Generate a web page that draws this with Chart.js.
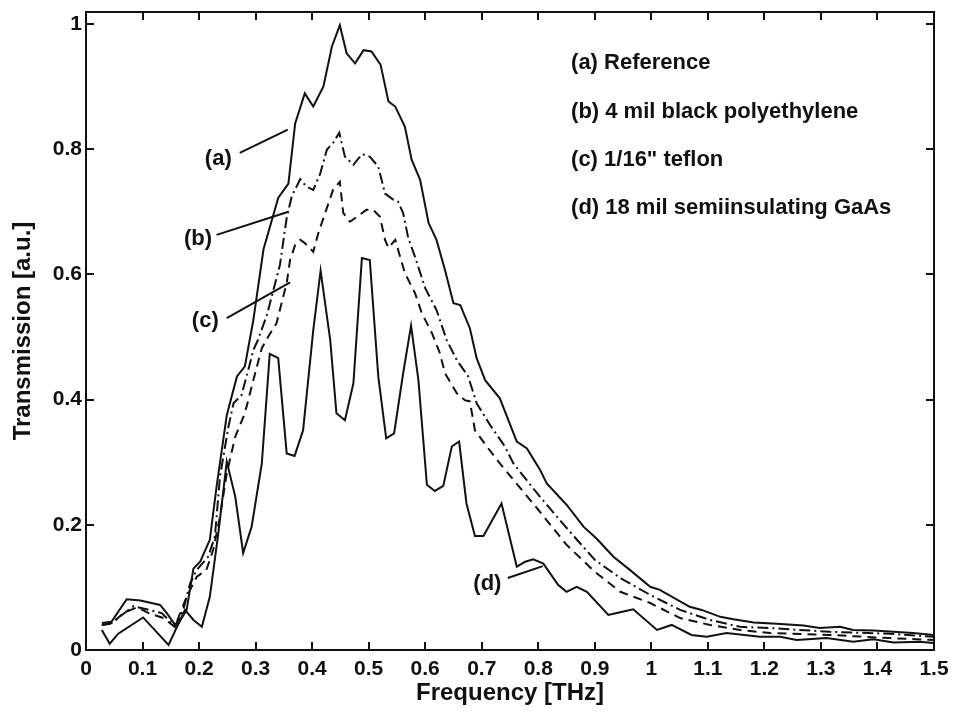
<!DOCTYPE html>
<html>
<head>
<meta charset="utf-8">
<script src="https://cdn.jsdelivr.net/npm/chart.js@4/dist/chart.umd.min.js"></script>
<style>
  html, body { margin: 0; padding: 0; background: #fff; }
  #wrap { width: 953px; height: 713px; }
</style>
</head>
<body>
<div id="wrap"><canvas id="c" width="953" height="713"></canvas></div>
<script>
// ---- Data ----
const xTicks = [0, 0.1, 0.2, 0.3, 0.4, 0.5, 0.6, 0.7, 0.8, 0.9, 1, 1.1, 1.2, 1.3, 1.4, 1.5];
const yTicks = [0, 0.2, 0.4, 0.6, 0.8, 1];

// (a) Reference
const freqA = [0.028,0.045,0.072,0.096,0.131,0.143,0.160,0.178,0.190,0.202,0.219,0.231,0.249,0.267,0.281,0.296,0.314,0.340,0.358,0.370,0.387,0.402,0.420,0.435,0.449,0.461,0.476,0.491,0.505,0.521,0.535,0.547,0.564,0.576,0.591,0.606,0.620,0.635,0.650,0.662,0.679,0.691,0.706,0.732,0.762,0.780,0.803,0.815,0.850,0.880,0.903,0.933,0.962,0.998,1.015,1.068,1.089,1.122,1.145,1.181,1.222,1.269,1.298,1.334,1.357,1.393,1.428,1.463,1.499];
const transA = [0.043,0.045,0.081,0.079,0.072,0.059,0.037,0.064,0.130,0.141,0.176,0.261,0.375,0.437,0.453,0.527,0.640,0.722,0.745,0.841,0.889,0.868,0.900,0.964,0.998,0.953,0.937,0.958,0.956,0.935,0.876,0.868,0.836,0.783,0.751,0.682,0.655,0.607,0.554,0.551,0.514,0.466,0.431,0.402,0.333,0.322,0.288,0.266,0.232,0.197,0.178,0.149,0.128,0.101,0.096,0.069,0.064,0.053,0.049,0.044,0.042,0.039,0.035,0.037,0.032,0.031,0.029,0.027,0.024];

// (b) 4 mil black polyethylene
const freqB = [0.028,0.045,0.084,0.107,0.134,0.157,0.172,0.184,0.196,0.216,0.228,0.237,0.252,0.261,0.275,0.287,0.296,0.304,0.320,0.343,0.355,0.364,0.379,0.390,0.402,0.414,0.426,0.437,0.448,0.458,0.473,0.488,0.502,0.517,0.529,0.544,0.552,0.561,0.570,0.582,0.600,0.620,0.638,0.656,0.676,0.691,0.715,0.741,0.756,0.800,0.850,0.900,0.945,0.998,1.051,1.104,1.157,1.210,1.316,1.422,1.500];
const transB = [0.040,0.043,0.070,0.065,0.059,0.038,0.064,0.106,0.128,0.149,0.181,0.277,0.357,0.394,0.407,0.447,0.479,0.495,0.535,0.615,0.690,0.725,0.752,0.740,0.735,0.760,0.799,0.810,0.826,0.788,0.775,0.792,0.788,0.772,0.729,0.719,0.716,0.698,0.658,0.628,0.578,0.543,0.495,0.463,0.437,0.394,0.359,0.325,0.298,0.248,0.195,0.144,0.115,0.088,0.064,0.048,0.037,0.035,0.029,0.026,0.021];

// (c) 1/16" teflon
const freqC = [0.028,0.045,0.066,0.090,0.113,0.137,0.157,0.178,0.196,0.213,0.225,0.237,0.249,0.264,0.281,0.296,0.311,0.322,0.337,0.355,0.361,0.370,0.379,0.387,0.402,0.411,0.437,0.449,0.455,0.467,0.496,0.508,0.520,0.529,0.535,0.547,0.564,0.582,0.594,0.612,0.626,0.635,0.656,0.670,0.679,0.688,0.709,0.732,0.800,0.850,0.900,0.945,0.998,1.051,1.104,1.157,1.210,1.316,1.422,1.500];
const transC = [0.040,0.042,0.059,0.068,0.058,0.051,0.037,0.085,0.117,0.128,0.160,0.213,0.282,0.341,0.378,0.431,0.482,0.500,0.522,0.586,0.623,0.647,0.655,0.650,0.636,0.666,0.735,0.748,0.698,0.684,0.703,0.703,0.692,0.655,0.642,0.655,0.602,0.570,0.538,0.506,0.474,0.442,0.410,0.399,0.397,0.351,0.325,0.298,0.224,0.168,0.125,0.093,0.075,0.051,0.040,0.032,0.027,0.024,0.019,0.016];

// (d) 18 mil semiinsulating GaAs
const freqD = [0.028,0.042,0.057,0.101,0.146,0.175,0.190,0.205,0.219,0.234,0.249,0.264,0.278,0.293,0.311,0.325,0.340,0.355,0.369,0.384,0.402,0.415,0.432,0.443,0.458,0.473,0.488,0.502,0.517,0.531,0.545,0.561,0.575,0.588,0.603,0.617,0.632,0.647,0.660,0.673,0.688,0.703,0.735,0.762,0.777,0.791,0.809,0.835,0.850,0.868,0.886,0.924,0.939,0.968,1.010,1.036,1.071,1.098,1.133,1.192,1.228,1.257,1.310,1.357,1.393,1.428,1.475,1.499];
const transD = [0.032,0.010,0.026,0.052,0.008,0.064,0.048,0.037,0.085,0.186,0.301,0.245,0.155,0.197,0.298,0.473,0.466,0.314,0.310,0.351,0.511,0.606,0.495,0.378,0.367,0.426,0.626,0.623,0.437,0.338,0.346,0.442,0.518,0.431,0.264,0.254,0.262,0.325,0.333,0.234,0.182,0.182,0.234,0.133,0.141,0.145,0.138,0.104,0.093,0.101,0.093,0.056,0.059,0.065,0.032,0.040,0.024,0.021,0.027,0.021,0.021,0.016,0.019,0.013,0.017,0.012,0.013,0.011];

// Legend text lines and curve labels
const legendLines = ['(a) Reference', '(b) 4 mil black polyethylene', '(c) 1/16" teflon', '(d) 18 mil semiinsulating GaAs'];
const legendX = 0.858;
const legendY = [0.938, 0.859, 0.783, 0.706];

const curveLabels = ['(a)', '(b)', '(c)', '(d)'];
const labelPosX = [0.234, 0.198, 0.211, 0.710];
const labelPosY = [0.784, 0.657, 0.526, 0.105];
const leaderFromX = [0.272, 0.231, 0.249, 0.746];
const leaderFromY = [0.794, 0.663, 0.530, 0.115];
const leaderToX = [0.357, 0.358, 0.361, 0.808];
const leaderToY = [0.831, 0.700, 0.587, 0.134];

// ---- Build datasets ----
const pts = (xs, ys) => xs.map((x, i) => ({ x: x, y: ys[i] }));
const INK = '#111';
const lineDs = (label, xs, ys, dash) => ({
  label, data: pts(xs, ys), showLine: true, borderColor: INK, backgroundColor: INK,
  borderWidth: 2, borderDash: dash, pointRadius: 0, tension: 0, fill: false
});
const datasets = [
  lineDs('(a)', freqA, transA, []),
  lineDs('(b)', freqB, transB, [11, 4, 2, 4]),
  lineDs('(c)', freqC, transC, [9, 6]),
  lineDs('(d)', freqD, transD, [])
];
// leader lines as 2-point datasets
for (let i = 0; i < 4; i++) {
  datasets.push({
    label: 'leader' + i,
    data: [{ x: leaderFromX[i], y: leaderFromY[i] }, { x: leaderToX[i], y: leaderToY[i] }],
    showLine: true, borderColor: INK, borderWidth: 2, pointRadius: 0, tension: 0
  });
}

const FONT = "'Liberation Sans', Arial, Helvetica, sans-serif";

const framePlugin = {
  id: 'frame',
  afterDatasetsDraw(chart) {
    const { ctx, chartArea: a, scales: { x, y } } = chart;
    ctx.save();
    ctx.strokeStyle = INK;
    ctx.lineWidth = 2;
    ctx.strokeRect(a.left, a.top, a.right - a.left, a.bottom - a.top);
    const tl = 8;
    ctx.beginPath();
    xTicks.forEach(v => {
      const px = Math.round(x.getPixelForValue(v));
      ctx.moveTo(px, a.bottom); ctx.lineTo(px, a.bottom - tl);
      ctx.moveTo(px, a.top); ctx.lineTo(px, a.top + tl);
    });
    yTicks.forEach(v => {
      const py = Math.round(y.getPixelForValue(v));
      ctx.moveTo(a.left, py); ctx.lineTo(a.left + tl, py);
      ctx.moveTo(a.right, py); ctx.lineTo(a.right - tl, py);
    });
    ctx.stroke();

    ctx.fillStyle = INK;
    ctx.textBaseline = 'middle';
    ctx.font = 'bold 22px ' + FONT;
    ctx.textAlign = 'left';
    legendLines.forEach((t, i) => {
      ctx.fillText(t, x.getPixelForValue(legendX), y.getPixelForValue(legendY[i]));
    });
    ctx.textAlign = 'center';
    curveLabels.forEach((t, i) => {
      ctx.fillText(t, x.getPixelForValue(labelPosX[i]), y.getPixelForValue(labelPosY[i]));
    });
    ctx.restore();
  }
};

new Chart(document.getElementById('c'), {
  type: 'scatter',
  data: { datasets },
  options: {
    responsive: false,
    animation: false,
    devicePixelRatio: 1,
    layout: { padding: { top: 12, right: 19, left: 0, bottom: 0 } },
    plugins: { legend: { display: false }, tooltip: { enabled: false } },
    scales: {
      x: {
        type: 'linear', min: 0, max: 1.5,
        grid: { display: false, drawTicks: false },
        border: { display: false },
        afterBuildTicks: s => { s.ticks = xTicks.map(v => ({ value: v })); },
        ticks: {
          autoSkip: false, maxRotation: 0, padding: 7, color: INK,
          font: { family: FONT, size: 21, weight: 'bold' },
          callback: v => String(Math.round(v * 10) / 10)
        },
        title: {
          display: true, text: 'Frequency [THz]', color: INK,
          font: { family: FONT, size: 24, weight: 'bold' },
          padding: { top: 0, bottom: 5 }
        },
        afterFit: s => { s.height = 63; s.paddingLeft = 0; s.paddingRight = 0; }
      },
      y: {
        type: 'linear', min: 0, max: 1.019,
        grid: { display: false, drawTicks: false },
        border: { display: false },
        afterBuildTicks: s => { s.ticks = yTicks.map(v => ({ value: v })); },
        ticks: {
          padding: 4, color: INK,
          font: { family: FONT, size: 21, weight: 'bold' },
          callback: v => String(Math.round(v * 10) / 10)
        },
        title: {
          display: true, text: 'Transmission [a.u.]', color: INK,
          font: { family: FONT, size: 24, weight: 'bold' },
          padding: { top: 9, bottom: 0 }
        },
        afterFit: s => { s.width = 86; s.paddingTop = 0; s.paddingBottom = 0; }
      }
    }
  },
  plugins: [framePlugin]
});
</script>
</body>
</html>
